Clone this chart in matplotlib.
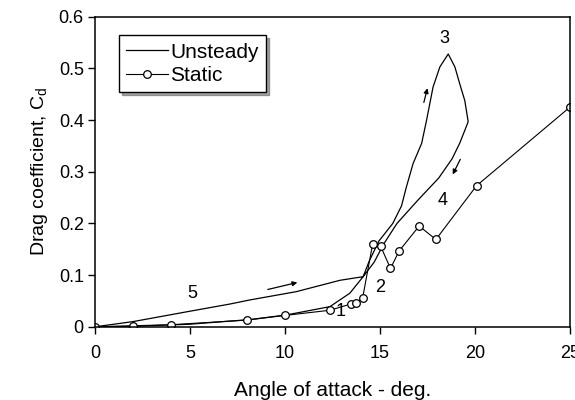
import numpy as np
import matplotlib.pyplot as plt

plt.rcParams['font.family'] = ['Liberation Sans', 'DejaVu Sans']

# static polar
static_alpha = [0, 2, 4, 8, 10, 12.37, 13.46, 13.77, 14.09, 14.62, 15.04, 15.56,
                16.02, 17.07, 17.95, 20.09, 25.0]
static_cd = [0, 0.002, 0.004, 0.013, 0.022, 0.032, 0.044, 0.046, 0.055, 0.160,
             0.156, 0.113, 0.147, 0.195, 0.169, 0.273, 0.425]

# unsteady hysteresis loop (upstroke -> peak -> downstroke)
unsteady_alpha = [0, 2.0, 4.83, 7.1, 8.16, 10.6, 12.9, 14.12, 14.45, 14.95, 15.68,
                  16.14, 16.4, 16.75, 17.2, 17.46, 17.8, 18.16, 18.6,
                  18.95, 19.2, 19.47, 19.65, 19.47, 19.2, 18.8, 18.1, 17.0,
                  15.9, 15.2, 14.7, 14.12, 13.42, 12.37, 10.09, 8.16,
                  5.0, 2.05, 0]
unsteady_cd = [0, 0.010, 0.029, 0.044, 0.052, 0.068, 0.090, 0.097, 0.128, 0.166, 0.200,
               0.234, 0.271, 0.316, 0.355, 0.400, 0.464, 0.503, 0.528,
               0.503, 0.471, 0.438, 0.397, 0.380, 0.355, 0.325, 0.288, 0.245,
               0.200, 0.160, 0.125, 0.097, 0.065, 0.039, 0.023, 0.014,
               0.005, 0.001, 0]

labels = ['1', '2', '3', '4', '5']
label_x = [12.95, 15.0, 18.4, 18.3, 5.14]
label_y = [0.029, 0.077, 0.558, 0.245, 0.065]

fig = plt.figure(figsize=(5.75, 4), dpi=100)
ax = fig.add_axes([0.165, 0.183, 0.826, 0.775])

ax.plot(unsteady_alpha, unsteady_cd, color='black', lw=0.9, label='Unsteady')
ax.plot(static_alpha, static_cd, color='black', lw=0.8, marker='o', ms=5.5,
        mfc='white', mec='black', mew=0.9, label='Static')

for t, x, y in zip(labels, label_x, label_y):
    ax.text(x, y, t, fontsize=13, ha='center', va='center')

# direction arrows
arr = dict(arrowstyle='-|>', color='black', lw=0.9, mutation_scale=7)
ax.annotate('', xy=(10.8, 0.087), xytext=(8.96, 0.071), arrowprops=arr)
ax.annotate('', xy=(17.54, 0.467), xytext=(17.28, 0.429), arrowprops=arr)
ax.annotate('', xy=(18.77, 0.29), xytext=(19.3, 0.329), arrowprops=arr)

ax.set_xlim(0, 25)
ax.set_ylim(0, 0.6)
ax.set_xticks([0, 5, 10, 15, 20, 25])
ax.set_xticklabels(['0', '5', '10', '15', '20', '25'])
ax.set_yticks([0, 0.1, 0.2, 0.3, 0.4, 0.5, 0.6])
ax.set_yticklabels(['0', '0.1', '0.2', '0.3', '0.4', '0.5', '0.6'])
ax.tick_params(direction='out', length=5, width=1, labelsize=13, pad=3)
ax.tick_params(axis='x', pad=8)
for s in ax.spines.values():
    s.set_linewidth(1.1)

ax.set_xlabel('Angle of attack - deg.', fontsize=15, labelpad=14)
ax.set_ylabel('Drag coefficient, C$_\\mathregular{d}$', fontsize=14, labelpad=6)

leg = ax.legend(loc='upper left', bbox_to_anchor=(0.051, 0.94), fontsize=15,
                frameon=True, fancybox=False, shadow=True, edgecolor='black',
                handlelength=2.0, handletextpad=0.1, borderpad=0.35,
                labelspacing=0.2, borderaxespad=0)
leg.get_frame().set_linewidth(1.0)

fig.savefig('out.png', dpi=100)
